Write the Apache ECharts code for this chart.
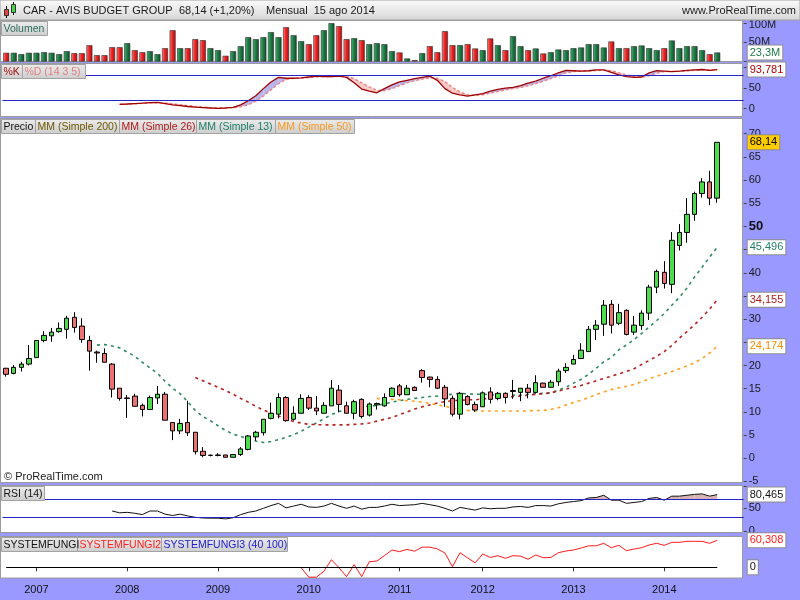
<!DOCTYPE html>
<html><head><meta charset="utf-8">
<script src="https://cdn.jsdelivr.net/npm/echarts@6/dist/echarts.min.js"></script>
<style>html,body{margin:0;padding:0;background:#9999ff}#c{width:800px;height:600px}</style>
</head><body><div id="c"></div>
<script>
// ---------------- DATA ----------------
const months = ['2006-09','2006-10','2006-11','2006-12',
'2007-01','2007-02','2007-03','2007-04','2007-05','2007-06','2007-07','2007-08','2007-09','2007-10','2007-11','2007-12',
'2008-01','2008-02','2008-03','2008-04','2008-05','2008-06','2008-07','2008-08','2008-09','2008-10','2008-11','2008-12',
'2009-01','2009-02','2009-03','2009-04','2009-05','2009-06','2009-07','2009-08','2009-09','2009-10','2009-11','2009-12',
'2010-01','2010-02','2010-03','2010-04','2010-05','2010-06','2010-07','2010-08','2010-09','2010-10','2010-11','2010-12',
'2011-01','2011-02','2011-03','2011-05','2011-06','2011-07','2011-08','2011-09','2011-10','2011-11','2011-12',
'2012-01','2012-02','2012-03','2012-04','2012-05','2012-06','2012-07','2012-08','2012-09','2012-10','2012-11','2012-12',
'2013-01','2013-02','2013-03','2013-04','2013-05','2013-06','2013-07','2013-08','2013-09','2013-10','2013-11','2013-12',
'2014-01','2014-02','2014-03','2014-04','2014-05','2014-06','2014-07','2014-08'];

const opens = [19.4,18.3,19.6,20.3,21.7,25.4,26.4,27.3,27.8,30.4, 28.5,25.4,22.9,22.6,20.3,15.1,13.0,13.4,11.4,10.5,
13.0,13.8,7.7,5.9,7.7,5.6,1.5,0.65,0.6,0.7, 0.2,0.8,1.9,4.6,5.5,8.6,9.5,13.1,8.4,9.7,
13.1,10.8,9.7,11.3,14.7,11.3,9.7,12.7,9.3,11.5, 11.3,13.3,15.6,13.7,15.3,18.9,17.5,17.0,15.3,12.9,
9.5,13.3,11.6,11.1,14.3,12.9,14.0,14.4,14.2,15.1, 14.2,16.2,15.3,16.5,18.9,20.3,21.5,23.0,27.8,28.9,
33.2,29.1,31.9,27.2,28.6,31.3,36.9,40.1,37.5,45.9, 48.7,52.6,57.1,59.6,56.1];
const highs = [19.5,20.1,20.8,24.4,25.4,27.4,28.1,29.3,30.7,31.5, 30.2,26.4,23.2,23.7,20.5,15.1,13.6,13.9,11.8,13.5,
15.6,14.3,7.7,8.5,12.4,5.6,2.4,0.8,1.1,0.7, 0.8,2.4,5.0,5.9,8.4,12.0,14.0,13.4,11.2,13.8,
13.6,13.4,12.1,16.9,15.8,12.2,12.6,12.9,12.0,12.0, 14.0,15.3,16.0,15.8,15.5,19.2,17.6,17.7,15.8,13.5,
14.3,13.6,12.2,14.4,15.3,14.3,14.2,16.9,15.1,16.0, 17.9,16.3,16.9,19.3,20.5,22.3,24.8,28.5,29.8,34.1,
34.1,33.3,32.1,30.7,31.9,37.4,40.7,42.5,48.8,50.5, 56.1,57.5,60.4,62.0,68.14];
const lows = [17.6,18.1,18.7,20.0,21.7,25.0,25.1,27.1,25.8,27.1, 24.9,18.9,20.6,20.7,13.1,12.4,8.7,11.2,9.0,10.5,
11.7,8.2,3.9,5.2,4.8,0.8,0.2,0.4,0.4,0.2, 0.2,0.5,1.7,3.8,4.9,8.4,8.6,7.9,8.1,9.7,
10.4,9.3,9.7,11.3,9.9,9.7,8.4,8.6,9.0,10.5, 11.1,13.3,13.3,13.7,14.6,16.3,15.3,14.9,11.1,9.0,
8.4,11.4,10.0,11.1,11.8,12.5,11.8,12.8,12.3,12.9, 14.0,15.3,15.3,15.6,18.4,20.3,21.5,23.0,25.5,26.4,
26.9,28.7,26.5,26.6,27.7,29.8,35.6,36.6,35.6,44.8, 46.5,51.2,56.2,54.6,55.1];
const closes = [18.1,19.6,20.3,21.5,25.4,26.5,27.2,28.0,30.2,28.2, 25.6,23.1,22.7,20.7,14.9,12.9,12.9,11.2,10.5,13.1,
13.8,8.2,5.9,7.5,5.5,1.4,0.6,0.6,0.7,0.2, 0.8,2.0,4.8,5.6,8.4,9.7,13.1,8.1,9.7,12.9,
10.8,10.2,11.4,15.1,11.6,9.7,12.2,9.0,11.7,11.8, 13.1,15.1,13.7,15.1,14.6,17.4,17.0,15.1,12.8,9.5,
14.0,11.6,10.4,14.1,12.7,14.0,13.1,14.6,15.1,14.2, 16.3,15.3,16.4,18.8,19.6,21.3,23.3,27.8,28.7,33.0,
28.7,31.4,26.7,28.7,31.3,36.9,40.3,37.7,47.0,48.7, 52.6,57.1,59.6,56.1,68.14];

// volume in millions
const volumes = [22.5,22.5,19,22.5,22.5,24,22.5,19,26.7,21.5, 21.5,42,16.3,16.3,37,37,47.4,29.3,24,26.7,
19,34.5,81,34.5,34.5,57.8,55.2,34.5,29.3,14.8, 26.7,39.6,63,57.8,63,76,63,88.8,68,52.6,
44.8,68,81,99.2,91.4,57.8,60.3,55.2,44.8,47.4, 44.8,26.7,23.3,7.8,3.4,21.5,39.6,24,78.5,42.2,
42.2,44.8,33.7,29.3,59.6,42.2,29.3,65.5,39.6,29.3, 33.7,20.7,24,31,29.3,34.5,36.3,44.8,44.8,36.3,
51.8,34.5,34.5,39.6,41.4,34.5,29.3,34.5,54.4,34.5, 39.6,39.6,29.3,18.9,23.3];

const ma13Start = 12;
const ma13 = [24.4,24.5,24.2,23.8,22.9,22.0,20.7,19.5,18.3,16.6, 15.1,13.9,12.2,10.3,9.0,8.1,7.0,6.0,5.2,4.7,
4.2,3.7,3.4,3.6,4.0,4.5,5.1,5.8,6.7,7.6, 8.5,9.4,10.1,10.6,10.9,11.1,11.2,11.4,11.7,12.1,
12.4,12.7,12.9,13.1,13.3,13.4,13.6,13.8,14.0,13.9, 13.8,13.8,13.7,13.6,13.6,13.6,13.6,13.8,13.9,14.0,
14.1,14.7,15.3,16.2,17.0,18.1,19.4,20.8,21.7,23.4, 24.4,25.6,26.9,28.3,29.7,31.2,33.0,34.7,36.7,39.1,
41.2,43.4,45.496];
const ma26Start = 25;
const ma26 = [17.4,16.7,16.0,15.3,14.6,13.8,12.9,12.1,11.2,10.4, 9.7,9.1,8.5,7.9,7.6,7.3,7.25,7.2,7.2,7.2,
7.2,7.3,7.4,7.6,8.0,8.4,8.8,9.4,10.0,10.6, 11.1,11.5,11.9,12.2,12.4,12.5,12.6,12.6,12.8,12.9,
13.0,13.2,13.3,13.4,13.6,13.8,13.9,14.1,14.5,14.9, 15.3,15.7,16.2,16.7,17.2,17.7,18.2,18.7,19.3,20.2,
21.1,22.0,23.0,24.3,25.9,27.3,28.8,30.4,32.2,34.155];
const ma50Start = 49;
const ma50 = [12.9,12.8,12.7,12.6,12.4,12.3,12.1,11.8,11.5,11.2, 10.8,10.5,10.3,10.2,10.2,10.2,10.2,10.2,10.2,10.2,
10.2,10.3,10.3,10.5,10.9,11.5,12.0,12.5,13.1,13.7, 14.3,14.8,15.2,15.5,15.9,16.5,17.1,17.7,18.2,18.7,
19.3,19.9,20.6,21.5,22.7,24.174];

const stochStart = 15;
const stochK = [10.3,11,12,13,14.5,15,12,9,7,5, 3.5,2.5,1.5,0.7,1.5,3,9,19,31,48,
64,75,73,73,74,76,78,77,77,78, 75,62,47,42,38,48,57,64,68,72,
75,78,68,48,37,33,30,33,36,42, 46,49,51,55,61,66,73,79,86,92,
91,90,91,93,93,87,81,77,75,76, 86,91,90,89,90,92,93,94,92,93.781];
const stochD = [10.5,10.8,11.5,12.5,13.5,14.3,13.5,11.5,9.5,7.2, 5.4,3.8,2.6,1.7,1.4,1.9,4.2,9.5,18,30,
45,60,70,73,73.5,74.5,76,77,77,77.5, 77,72,62,52,44,43,48,55,62,67,
71,74,73,65,51,40,33,32,33,37, 41,45,48,51,55,60,66,72,79,86,
89,90.5,90.5,91.5,92.5,91,86,81,77,75.5, 79,85,89,89.5,89.5,90.5,92,93,93,93];

const rsiStart = 14;
const rsi = [44,40,41,39,36,44,44,37,34,37, 33,30,28.5,28,28,26.5,29,36,41,44,
50,56,61,51,55,59,53,52,55,61, 55,50,55,48,52,52,55,59,56,57,
58,61,58,55,50,44,52,49,46,51, 49,50,50,53,54,52,56,56,55,60,
63,65,67,73,74,79,68,68,61,63, 65,72,74,68,77,77,79,81,82,77,
80.465];

const fungi2Start = 39;
const fungi2 = [-1,-22,-22,-9,17,-1,-21,6,-21,12.5, 14,26,38.6,35,40,36,45,45,41,32,
1.3,32.6,21,10,29.7,22,26,20,26,25, 18,27.5,21.4,22,32.6,36.4,38.6,43,48,48,
53.6,43.8,49,37,40.8,43.8,49.8,53.6,49,55.8, 55.8,58,58,58,53.6,60.308];
const fungi1Level = 0;

const rsiLevels = [30, 70];
const stochLevels = [20, 80];
const lastVolume = 23.3;
const lastClose = 68.14;

// ---------------- HELPERS ----------------
const FONT = '"Liberation Sans", Arial, sans-serif';
const N = months.length;
const xCats = months.concat(['', '', '']); // right-hand empty space of the chart
const pad = (arr, start) => { const out = new Array(N).fill(null); arr.forEach((v, k) => out[start + k] = v); return out; };
const fmt = (v, d) => v.toFixed(d).replace('.', ',');
const isYear = (idx, val) => /-01$/.test(val);

const candleData = opens.map((o, i) => [o, closes[i], lows[i], highs[i]]);

const gUp = new echarts.graphic.LinearGradient(0, 0, 1, 0, [{offset: 0, color: '#48b873'}, {offset: 0.45, color: '#1f7d47'}, {offset: 1, color: '#0f4d2a'}]);
const gDn = new echarts.graphic.LinearGradient(0, 0, 1, 0, [{offset: 0, color: '#ff8a8a'}, {offset: 0.45, color: '#ee2424'}, {offset: 1, color: '#b01010'}]);
const volData = volumes.map((v, i) => {
  const up = i === 0 ? closes[0] >= opens[0] : closes[i] >= closes[i - 1];
  return {value: v, itemStyle: {color: up ? gUp : gDn}};
});

function pairs(a, b, start, thr) {
  const out = [];
  for (let k = 0; k < a.length - 1; k++) {
    const b0 = thr != null ? thr : b[k], b1 = thr != null ? thr : b[k + 1];
    out.push([start + k, a[k], b0, a[k + 1], b1]);
  }
  return out;
}
function fillRenderer(posColor, negColor) {
  return function (params, api) {
    const i = api.value(0), a0 = api.value(1), b0 = api.value(2), a1 = api.value(3), b1 = api.value(4);
    const A0 = api.coord([i, a0]), B0 = api.coord([i, b0]), A1 = api.coord([i + 1, a1]), B1 = api.coord([i + 1, b1]);
    const d0 = a0 - b0, d1 = a1 - b1, ch = [];
    const add = (pts, c) => { if (c) ch.push({type: 'polygon', shape: {points: pts}, style: {fill: c}}); };
    if (d0 >= 0 && d1 >= 0) add([A0, A1, B1, B0], posColor);
    else if (d0 <= 0 && d1 <= 0) add([A0, A1, B1, B0], negColor);
    else {
      const t = d0 / (d0 - d1);
      const X = [A0[0] + t * (A1[0] - A0[0]), A0[1] + t * (A1[1] - A0[1])];
      if (d0 > 0) { add([A0, X, B0], posColor); add([X, A1, B1], negColor); }
      else { add([A0, X, B0], negColor); add([X, A1, B1], posColor); }
    }
    return {type: 'group', children: ch};
  };
}
function box(val, text, color, bg) {
  return {
    yAxis: val, lineStyle: {color: 'rgba(0,0,0,0)', width: 1, type: 'solid'},
    label: {show: true, position: 'end', distance: 4, formatter: text, color: color,
      backgroundColor: bg || '#ffffff', borderColor: '#8c8c8c', borderWidth: 1,
      padding: [2, 2, 1, 2], fontSize: 11, fontFamily: FONT}
  };
}
function level(val) {
  return {yAxis: val, lineStyle: {color: '#2424c8', width: 1, type: 'solid'}, label: {show: false}};
}

// ---------------- LAYOUT ----------------
const GL = 2.4, GW = 741.3;
const grids = [
  {left: GL, width: GW, top: 22.9, height: 38.6},   // volume
  {left: GL, width: GW, top: 67, height: 41.6},     // stochastic
  {left: GL, width: GW, top: 119, height: 362.4},   // price
  {left: GL, width: GW, top: 485.8, height: 45},    // RSI
  {left: GL, width: GW, top: 538.2, height: 40.3}   // systemfungi
];
const axisLblBase = {margin: 5, fontSize: 11, color: '#1a1a1a', fontFamily: FONT};
const tickBase = {show: true, length: 3, lineStyle: {color: '#444'}};

const yAxes = [
  {gridIndex: 0, position: 'right', min: 0, max: 100, interval: 50, axisLine: {show: false}, axisTick: tickBase, splitLine: {show: false},
    axisLabel: Object.assign({}, axisLblBase, {formatter: v => v === 0 ? '' : (v === 100 ? '{t|100M}' : v + 'M'),
      rich: {t: {padding: [5, 0, 0, 0], fontSize: 11, color: '#1a1a1a', fontFamily: FONT}}})},
  {gridIndex: 1, position: 'right', min: 0, max: 100, interval: 50, axisLine: {show: false}, axisTick: tickBase, splitLine: {show: false},
    axisLabel: Object.assign({}, axisLblBase, {formatter: v => v === 100 ? '' : String(v)})},
  {gridIndex: 2, position: 'right', min: -5, max: 73.17, interval: 5, axisLine: {show: false}, axisTick: tickBase, splitLine: {show: false},
    axisLabel: Object.assign({}, axisLblBase, {showMaxLabel: false,
      formatter: v => (v === 25 || v === 35 || v === 45 || v > 70) ? '' : (v === 50 ? '{b|50}' : String(v)),
      rich: {b: {fontSize: 13, fontWeight: 'bold', color: '#111', fontFamily: FONT}}})},
  {gridIndex: 3, position: 'right', min: 0, max: 100, interval: 50, axisLine: {show: false}, axisTick: tickBase, splitLine: {show: false},
    axisLabel: Object.assign({}, axisLblBase, {formatter: v => v === 100 ? '' : String(v)})},
  {gridIndex: 4, position: 'right', min: -25, max: 65, axisLine: {show: false}, axisTick: {show: false}, splitLine: {show: false}, axisLabel: {show: false}}
];
const xAxes = [0, 1, 2, 3, 4].map(g => ({
  type: 'category', gridIndex: g, data: xCats, boundaryGap: true,
  axisLine: {show: false}, splitLine: {show: false},
  axisTick: {show: g === 4, alignWithLabel: true, length: 4, interval: isYear, lineStyle: {color: '#333'}},
  axisLabel: {show: g === 4, interval: isYear, formatter: v => v.slice(0, 4), margin: 6, fontSize: 11, color: '#111', fontFamily: FONT}
}));

// ---------------- GRAPHICS (panels, header, tags) ----------------
const tagFill = new echarts.graphic.LinearGradient(0, 0, 0, 1, [{offset: 0, color: '#ececec'}, {offset: 1, color: '#cdcdcd'}]);
const panels = [[21, 62], [64, 117], [119, 483], [486, 533], [537, 578.5]].map(p => ({
  type: 'rect', z: -10, silent: true,
  shape: {x: 0.5, y: p[0] - 0.5, width: 742, height: p[1] - p[0]},
  style: {fill: '#ffffff', stroke: '#9a9a9a', lineWidth: 1}
}));
const TAGFS = 10.5;
function tag(x, y, w, text, color) {
  return [
    {type: 'rect', z: 50, silent: true, shape: {x: x + 0.5, y: y + 0.5, width: w, height: 14}, style: {fill: tagFill, stroke: '#a3a3a3', lineWidth: 1}},
    {type: 'text', z: 51, silent: true, x: x + 2.5, y: y + 8, style: {text: text, fill: color, fontSize: TAGFS, fontFamily: FONT, verticalAlign: 'middle', align: 'left'}}
  ];
}
const headerFill = new echarts.graphic.LinearGradient(0, 0, 0, 1, [{offset: 0, color: '#fbfbfb'}, {offset: 1, color: '#d6d6d6'}]);
const HFS = 11;
const graphics = [].concat(
  panels,
  [
    {type: 'rect', z: 40, silent: true, shape: {x: 0, y: 0, width: 800, height: 20}, style: {fill: headerFill, stroke: '#a0a0a0', lineWidth: 1}},
    // small logo
    {type: 'line', z: 41, shape: {x1: 6.5, y1: 6, x2: 6.5, y2: 18}, style: {stroke: '#000', lineWidth: 1}},
    {type: 'rect', z: 42, shape: {x: 4.5, y: 9.5, width: 4, height: 6}, style: {fill: '#ee4040', stroke: '#333', lineWidth: 1}},
    {type: 'line', z: 41, shape: {x1: 13.5, y1: 2, x2: 13.5, y2: 15}, style: {stroke: '#000', lineWidth: 1}},
    {type: 'rect', z: 42, shape: {x: 11.5, y: 4.5, width: 4, height: 8}, style: {fill: '#44d444', stroke: '#333', lineWidth: 1}},
    {type: 'text', z: 43, x: 23, y: 11, style: {text: 'CAR - AVIS BUDGET GROUP', fill: '#1a1a1a', fontSize: HFS, fontFamily: FONT, verticalAlign: 'middle'}},
    {type: 'text', z: 43, x: 179, y: 11, style: {text: '68,14 (+1,20%)', fill: '#1a1a1a', fontSize: HFS, fontFamily: FONT, verticalAlign: 'middle'}},
    {type: 'text', z: 43, x: 266, y: 11, style: {text: 'Mensual  15 ago 2014', fill: '#1a1a1a', fontSize: HFS, fontFamily: FONT, verticalAlign: 'middle'}},
    {type: 'text', z: 43, x: 796, y: 11, style: {text: 'www.ProRealTime.com', fill: '#1a1a1a', fontSize: HFS, fontFamily: FONT, verticalAlign: 'middle', align: 'right'}},
    {type: 'text', z: 43, x: 4, y: 477, style: {text: '\u00A9 ProRealTime.com', fill: '#1a1a1a', fontSize: 11, fontFamily: FONT, verticalAlign: 'middle'}}
  ],
  tag(1, 21, 46, 'Volumen', '#2b6e5c'),
  tag(1, 64, 21, '%K', '#a01010'),
  tag(22, 64, 63, '%D (14 3 5)', '#e08080'),
  tag(1, 119, 34, 'Precio', '#111111'),
  tag(35, 119, 84, 'MM (Simple 200)', '#6e5800'),
  tag(119, 119, 77, 'MM (Simple 26)', '#b01c1c'),
  tag(196, 119, 79, 'MM (Simple 13)', '#1e7f66'),
  tag(275, 119, 79, 'MM (Simple 50)', '#f59a20'),
  tag(1, 486, 43, 'RSI (14)', '#111111'),
  tag(1, 537, 76, 'SYSTEMFUNGI', '#111111'),
  tag(77, 537, 84, 'SYSTEMFUNGI2', '#ff2020'),
  tag(161, 537, 126, 'SYSTEMFUNGI3 (40 100)', '#2020d0')
);

// ---------------- SERIES ----------------
const ml = (data) => ({silent: true, symbol: ['none', 'none'], animation: false, data: data});
const maLine = (name, data, color) => ({
  name: name, type: 'line', xAxisIndex: 2, yAxisIndex: 2, data: data, symbol: 'none', silent: true,
  lineStyle: {color: color, width: 1.6, type: [3, 4]}, z: 3
});
const series = [
  {name: 'Volumen', type: 'bar', xAxisIndex: 0, yAxisIndex: 0, data: volData, barWidth: 6, silent: true,
    itemStyle: {borderColor: '#2a2a2a', borderWidth: 0.6},
    markLine: ml([box(lastVolume, fmt(lastVolume, 1) + 'M', '#1e7b46')])},
  {name: 'stochFill', type: 'custom', xAxisIndex: 1, yAxisIndex: 1, silent: true, z: 1,
    renderItem: fillRenderer('#b6b6ec', '#f7c8c8'), encode: {x: 0, y: 1}, data: pairs(stochK, stochD, stochStart)},
  {name: '%D', type: 'line', xAxisIndex: 1, yAxisIndex: 1, data: pad(stochD, stochStart), symbol: 'none', silent: true,
    lineStyle: {color: '#f08484', width: 1.4, type: [3, 2]}, z: 3},
  {name: '%K', type: 'line', xAxisIndex: 1, yAxisIndex: 1, data: pad(stochK, stochStart), symbol: 'none', silent: true,
    lineStyle: {color: '#a00000', width: 1.3}, z: 4,
    markLine: ml([level(stochLevels[0]), level(stochLevels[1]), box(stochK[stochK.length - 1], fmt(stochK[stochK.length - 1], 3), '#b00000')])},
  {name: 'Precio', type: 'candlestick', xAxisIndex: 2, yAxisIndex: 2, data: candleData, barWidth: 5, silent: true, z: 5,
    itemStyle: {color: '#4cdc4c', color0: '#ec7272', borderColor: '#000', borderColor0: '#000', borderWidth: 1},
    markLine: ml([box(lastClose, fmt(lastClose, 2), '#000', '#ffcc00')])},
  Object.assign(maLine('MM (Simple 13)', pad(ma13, ma13Start), '#2e8a60'),
    {markLine: ml([box(ma13[ma13.length - 1], fmt(ma13[ma13.length - 1], 3), '#1e7f66')])}),
  Object.assign(maLine('MM (Simple 26)', pad(ma26, ma26Start), '#b82020'),
    {markLine: ml([box(ma26[ma26.length - 1], fmt(ma26[ma26.length - 1], 3), '#b01c1c')])}),
  Object.assign(maLine('MM (Simple 50)', pad(ma50, ma50Start), '#ffa020'),
    {markLine: ml([box(ma50[ma50.length - 1], fmt(ma50[ma50.length - 1], 3), '#f08c00')])}),
  {name: 'rsiFill', type: 'custom', xAxisIndex: 3, yAxisIndex: 3, silent: true, z: 1,
    renderItem: fillRenderer('#d6b3b3', null), encode: {x: 0, y: 1}, data: pairs(rsi, null, rsiStart, rsiLevels[1])},
  {name: 'RSI (14)', type: 'line', xAxisIndex: 3, yAxisIndex: 3, data: pad(rsi, rsiStart), symbol: 'none', silent: true,
    lineStyle: {color: '#111', width: 1}, z: 4,
    markLine: ml([level(rsiLevels[0]), level(rsiLevels[1]), box(rsi[rsi.length - 1], fmt(rsi[rsi.length - 1], 3), '#111')])},
  {name: 'SYSTEMFUNGI2', type: 'line', xAxisIndex: 4, yAxisIndex: 4, data: pad(fungi2, fungi2Start), symbol: 'none', silent: true,
    lineStyle: {color: '#ff1a1a', width: 1}, z: 4,
    markLine: ml([
      [{coord: [0, fungi1Level], lineStyle: {color: '#000', width: 1, type: 'solid'}, label: {show: false}}, {coord: [N - 1, fungi1Level]}],
      box(fungi2[fungi2.length - 1], fmt(fungi2[fungi2.length - 1], 3), '#ff1a1a'),
      box(fungi1Level, String(fungi1Level), '#111')
    ])}
];

const chart = echarts.init(document.getElementById('c'), null, {renderer: 'canvas', width: 800, height: 600});
chart.setOption({
  animation: false,
  backgroundColor: '#9999ff',
  textStyle: {fontFamily: FONT},
  grid: grids,
  xAxis: xAxes,
  yAxis: yAxes,
  graphic: {elements: graphics},
  series: series
});
</script>
</body></html>
